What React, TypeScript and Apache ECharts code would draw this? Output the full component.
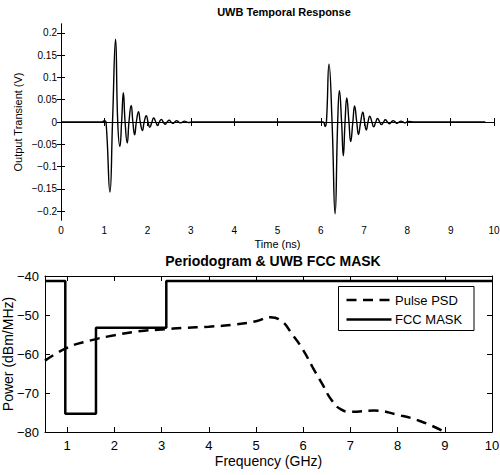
import React, { useEffect, useRef } from "react";
import * as echarts from "echarts";

// ---------- Top chart: UWB temporal response ----------
const timeNs = [
  0, 0.95, 1.0, 1.04, 1.13, 1.19, 1.26, 1.31, 1.36, 1.4, 1.44, 1.48, 1.53, 1.57, 1.62, 1.66, 1.7, 1.74, 1.79, 1.83,
  1.88, 1.92, 1.97, 2.01, 2.05, 2.1, 2.14, 2.19, 2.23, 2.27, 2.32, 2.36, 2.41, 2.45, 2.5, 2.54, 2.58, 2.63, 2.67,
  2.72, 2.76, 2.81, 2.85, 2.9, 2.94, 3.05,
  6.05, 6.1, 6.13, 6.19, 6.26, 6.33, 6.39, 6.43, 6.48, 6.52, 6.56, 6.6, 6.65, 6.69, 6.74, 6.78, 6.83, 6.87, 6.92,
  6.97, 7.01, 7.05, 7.09, 7.13, 7.18, 7.22, 7.27, 7.31, 7.36, 7.4, 7.45, 7.49, 7.54, 7.58, 7.63, 7.67, 7.72, 7.76,
  7.81, 7.85, 7.9, 7.94, 7.99, 8.03, 8.15, 9.8,
];
const transientV = [
  0, 0, 0.003, 0, -0.157, 0, 0.186, 0, -0.055, 0, 0.066, 0, -0.047, 0, 0.037, 0, -0.029, 0, 0.023, 0,
  -0.019, 0, 0.014, 0, -0.012, 0, 0.009, 0, -0.008, 0, 0.006, 0, -0.005, 0, 0.004, 0, -0.003, 0, 0.003,
  0, -0.002, 0, 0.002, 0, -0.001, 0,
  0, -0.01, 0, 0.13, 0, -0.206, 0, 0.07, 0, -0.076, 0, 0.054, 0, -0.044, 0, 0.036, 0, -0.028, 0,
  0.022, 0, -0.018, 0, 0.013, 0, -0.011, 0, 0.008, 0, -0.006, 0, 0.005, 0, -0.004, 0, 0.003, 0, -0.003,
  0, 0.002, 0, -0.002, 0, 0.001, 0, 0,
];
const voltTicks = [-0.2, -0.15, -0.1, -0.05, 0, 0.05, 0.1, 0.15, 0.2];

// ---------- Bottom chart: periodogram & FCC mask ----------
const psdFreq = [0.53, 1.0, 1.5, 2.0, 2.5, 3.0, 3.5, 4.0, 4.5, 5.0, 5.3, 5.5, 5.8, 6.0, 6.2, 6.4, 6.6, 6.8, 7.0, 7.5, 8.0, 8.5, 9.0];
const psdPower = [-61.7, -58.4, -56.5, -55.2, -54.2, -53.7, -53.3, -53.0, -52.5, -51.6, -50.6, -51.2, -55.5, -59.0, -63.4, -67.6, -71.8, -74.2, -74.8, -74.5, -75.6, -77.3, -80.0];
const maskFreq = [0.53, 0.96, 0.96, 1.61, 1.61, 3.1, 3.1, 10];
const maskPower = [-41.3, -41.3, -75.3, -75.3, -53.3, -53.3, -41.3, -41.3];
const freqTicks = [1, 2, 3, 4, 5, 6, 7, 8, 9, 10];
const legendNames = ["Pulse PSD", "FCC MASK"];

const FONT = "'Liberation Sans', Arial, sans-serif";
const DASH = [10, 6.5];
const minus = (v: number) => String(v).replace("-", "\u2212");

export default function App() {
  const ref = useRef<HTMLDivElement>(null);
  useEffect(() => {
    document.body.style.margin = "0";
    const chart = echarts.init(ref.current!, undefined, { renderer: "svg" });
    const axisLine = { show: true, lineStyle: { color: "#000", width: 1 } };
    const topTick = { inside: true, length: 4, lineStyle: { color: "#000" } };
    const botTick = { inside: true, length: 5, lineStyle: { color: "#000" } };
    chart.setOption({
      animation: false,
      textStyle: { fontFamily: FONT },
      title: [
        {
          text: "UWB Temporal Response",
          left: 279,
          top: 1,
          textAlign: "center",
          textStyle: { fontSize: 11, fontWeight: "bold", color: "#000", fontFamily: FONT },
        },
        {
          text: "Periodogram & UWB FCC MASK",
          left: 268,
          top: 249,
          textAlign: "center",
          textStyle: { fontSize: 14, fontWeight: "bold", color: "#000", fontFamily: FONT },
        },
      ],
      graphic: [
        {
          type: "group",
          z: 100,
          children: [
            {
              type: "rect",
              shape: { x: 338.5, y: 286.5, width: 135.5, height: 44 },
              style: { fill: "#fff", stroke: "#000", lineWidth: 1 },
            },
            {
              type: "line",
              shape: { x1: 346.5, y1: 300, x2: 391.5, y2: 300 },
              style: { stroke: "#000", lineWidth: 2.5, lineDash: DASH },
            },
            {
              type: "text",
              x: 395,
              y: 300,
              style: {
                text: legendNames[0],
                fontSize: 13,
                fontFamily: FONT,
                fill: "#000",
                verticalAlign: "middle",
                align: "left",
              },
            },
            {
              type: "line",
              shape: { x1: 346.5, y1: 319.5, x2: 391.5, y2: 319.5 },
              style: { stroke: "#000", lineWidth: 2.5 },
            },
            {
              type: "text",
              x: 395,
              y: 319.5,
              style: {
                text: legendNames[1],
                fontSize: 13,
                fontFamily: FONT,
                fill: "#000",
                verticalAlign: "middle",
                align: "left",
              },
            },
          ],
        },
      ],
      grid: [
        { left: 61, top: 24, width: 433, height: 196, show: false, outerBoundsMode: "none", containLabel: false },
        { left: 45, top: 276, width: 447, height: 156, show: false, outerBoundsMode: "none", containLabel: false },
      ],
      xAxis: [
        {
          gridIndex: 0,
          type: "value",
          min: 0,
          max: 10,
          interval: 1,
          position: "bottom",
          axisLine,
          axisTick: topTick,
          splitLine: { show: false },
          axisLabel: { fontSize: 10, color: "#000", margin: 5, fontFamily: FONT },
          name: "Time (ns)",
          nameLocation: "middle",
          nameGap: 18,
          nameMoveOverlap: false,
          nameTextStyle: { fontSize: 11, color: "#000", fontFamily: FONT },
        },
        {
          gridIndex: 0,
          type: "value",
          min: 0,
          max: 10,
          interval: 1,
          position: "top",
          axisLine,
          axisTick: topTick,
          splitLine: { show: false },
          axisLabel: { show: false },
        },
        {
          gridIndex: 1,
          type: "value",
          min: 0.53,
          max: 10,
          position: "bottom",
          axisLine,
          axisTick: { ...botTick, customValues: freqTicks },
          splitLine: { show: false },
          axisLabel: { fontSize: 13, color: "#000", margin: 7, fontFamily: FONT, customValues: freqTicks },
          name: "Frequency (GHz)",
          nameLocation: "middle",
          nameGap: 22,
          nameMoveOverlap: false,
          nameTextStyle: { fontSize: 14, color: "#000", fontFamily: FONT },
        },
        {
          gridIndex: 1,
          type: "value",
          min: 0.53,
          max: 10,
          position: "top",
          axisLine,
          axisTick: { ...botTick, customValues: freqTicks },
          splitLine: { show: false },
          axisLabel: { show: false, customValues: freqTicks },
        },
      ],
      yAxis: [
        {
          gridIndex: 0,
          type: "value",
          min: -0.22,
          max: 0.22,
          position: "left",
          axisLine,
          axisTick: { ...topTick, customValues: voltTicks },
          splitLine: { show: false },
          axisLabel: {
            fontSize: 10,
            color: "#000",
            margin: 4,
            fontFamily: FONT,
            customValues: voltTicks,
            formatter: (v: number) => minus(v),
          },
          name: "Output Transient (V)",
          nameLocation: "middle",
          nameGap: 38,
          nameMoveOverlap: false,
          nameTextStyle: { fontSize: 11, color: "#000", fontFamily: FONT },
        },
        {
          gridIndex: 0,
          type: "value",
          min: -0.22,
          max: 0.22,
          position: "right",
          axisLine,
          axisTick: { ...topTick, customValues: voltTicks },
          splitLine: { show: false },
          axisLabel: { show: false, customValues: voltTicks },
        },
        {
          gridIndex: 1,
          type: "value",
          min: -80,
          max: -40,
          interval: 10,
          position: "left",
          axisLine,
          axisTick: botTick,
          splitLine: { show: false },
          axisLabel: {
            fontSize: 13,
            color: "#000",
            margin: 6,
            fontFamily: FONT,
            formatter: (v: number) => minus(v),
          },
          name: "Power (dBm/MHz)",
          nameLocation: "middle",
          nameGap: 30,
          nameMoveOverlap: false,
          nameTextStyle: { fontSize: 14, color: "#000", fontFamily: FONT },
        },
        {
          gridIndex: 1,
          type: "value",
          min: -80,
          max: -40,
          interval: 10,
          position: "right",
          axisLine,
          axisTick: botTick,
          splitLine: { show: false },
          axisLabel: { show: false },
        },
      ],
      series: [
        {
          name: "Transient",
          type: "line",
          xAxisIndex: 0,
          yAxisIndex: 0,
          data: timeNs.map((t, i) => [t, transientV[i]]),
          smooth: 0.5,
          showSymbol: false,
          symbol: "none",
          lineStyle: { color: "#000", width: 1.4 },
        },
        {
          name: legendNames[0],
          type: "line",
          xAxisIndex: 2,
          yAxisIndex: 2,
          data: psdFreq.map((f, i) => [f, psdPower[i]]),
          smooth: true,
          showSymbol: false,
          symbol: "none",
          lineStyle: { color: "#000", width: 2.5, type: DASH },
        },
        {
          name: legendNames[1],
          type: "line",
          xAxisIndex: 2,
          yAxisIndex: 2,
          data: maskFreq.map((f, i) => [f, maskPower[i]]),
          showSymbol: false,
          symbol: "none",
          lineStyle: { color: "#000", width: 2.5 },
        },
      ],
    });
    return () => chart.dispose();
  }, []);
  return <div ref={ref} style={{ width: 500, height: 475 }} />;
}
